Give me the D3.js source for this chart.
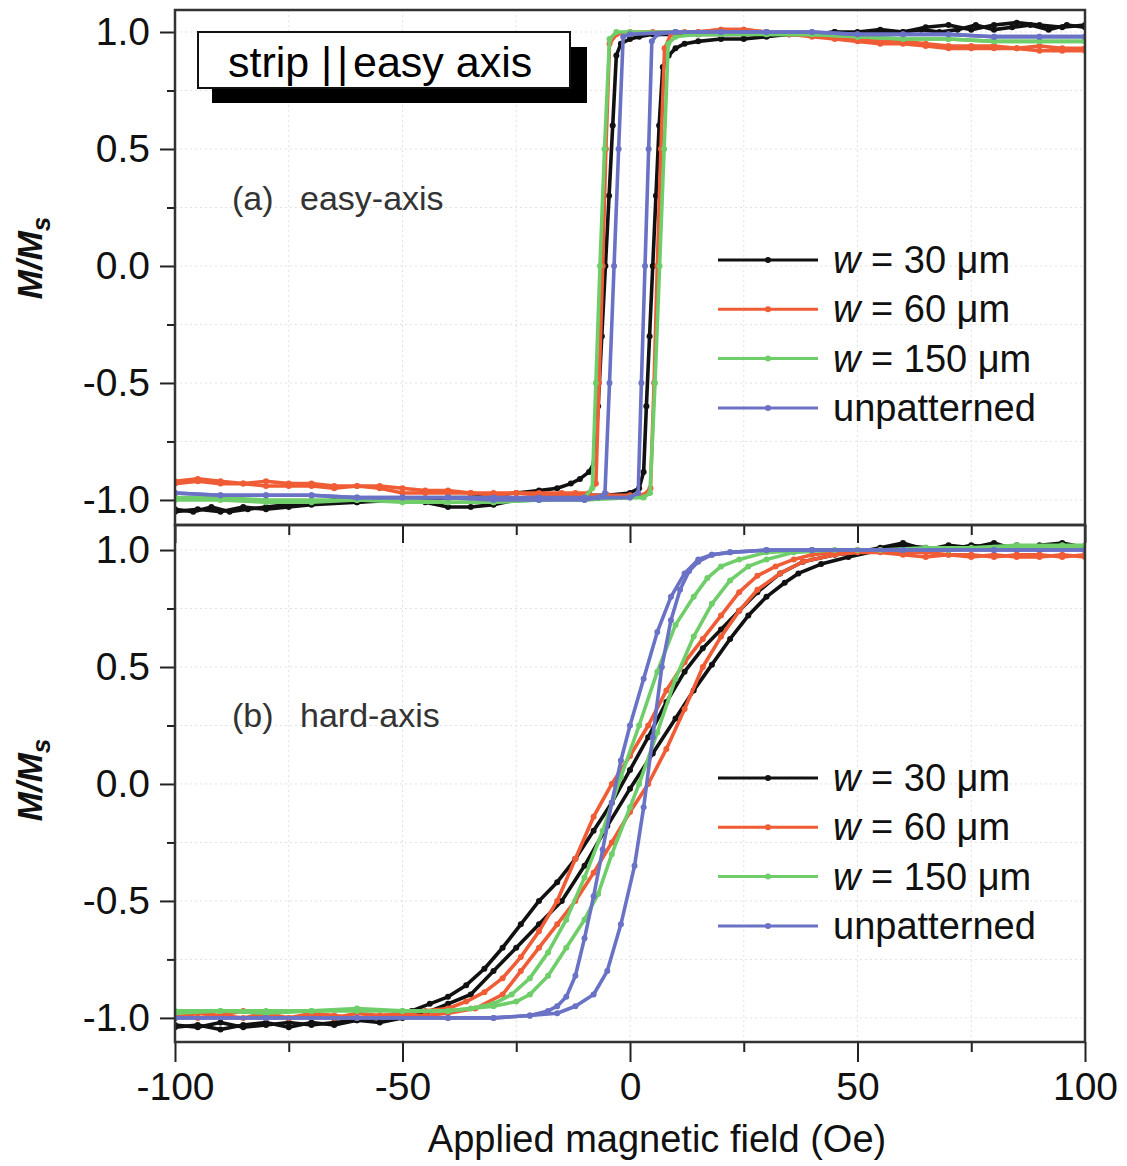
<!DOCTYPE html>
<html><head><meta charset="utf-8">
<script src="https://cdn.jsdelivr.net/npm/d3@7"></script>
<style>body{margin:0;background:#fff}text{font-family:"Liberation Sans",Arial,sans-serif}</style>
</head><body><svg id="chart" width="1127" height="1166"></svg>
<script>
// ---------- data ----------
const seriesLabels = ["30", "60", "150", "unpatterned"];
const seriesColors = ["#111111", "#ef5c35", "#6fce6a", "#6a72c6"];
const xTicks = [-100, -50, 0, 50, 100];
const xMinorTicks = [-75, -25, 25, 75];
const yTicks = [-1, -0.5, 0, 0.5, 1];
const yMinorTicks = [-0.75, -0.25, 0.25, 0.75];

// (a) easy axis: ascending (Up) and descending (Down) branches, [H (Oe), M/Ms]
const easy30Up = [[-100,-1.04],[-96,-1.05],[-92,-1.03],[-88,-1.05],[-84,-1.04],[-80,-1.03],[-75,-1.02],[-70,-1.01],[-65,-1.0],[-60,-1.01],[-55,-1.0],[-50,-1.0],[-45,-1.01],[-40,-1.03],[-35,-1.03],[-30,-1.02],[-25,-1.0],[-20,-0.99],[-15,-0.99],[-10,-0.98],[-5,-0.98],[0,-0.97],[2,-0.95],[3,-0.88],[3.6,-0.6],[4.3,-0.3],[5,0.0],[5.7,0.3],[6.4,0.6],[7.2,0.85],[8.5,0.9],[10,0.93],[12,0.95],[15,0.96],[20,0.97],[25,0.97],[30,0.98],[35,0.99],[40,0.99],[45,1.0],[50,1.0],[55,1.01],[60,1.0],[65,1.02],[70,1.03],[75,1.01],[80,1.03],[85,1.04],[90,1.03],[95,1.02],[100,1.03]];
const easy30Down = [[100,1.02],[96,1.03],[92,1.01],[88,1.03],[84,1.02],[80,1.01],[76,1.03],[72,1.01],[68,1.0],[64,1.01],[60,1.0],[55,1.0],[50,0.99],[45,1.0],[40,0.99],[35,0.99],[30,0.99],[25,0.99],[20,0.99],[15,0.99],[10,0.99],[5,0.99],[2,0.98],[0,0.97],[-2,0.95],[-3,0.9],[-3.8,0.6],[-4.6,0.3],[-5.4,0.0],[-6.2,-0.3],[-7,-0.6],[-7.8,-0.84],[-9,-0.88],[-11,-0.91],[-13,-0.93],[-16,-0.95],[-20,-0.96],[-25,-0.97],[-30,-0.98],[-35,-0.99],[-40,-0.99],[-45,-1.0],[-50,-1.0],[-60,-1.01],[-70,-1.02],[-75,-1.03],[-80,-1.04],[-85,-1.03],[-90,-1.05],[-95,-1.04],[-100,-1.05]];
const easy60Up = [[-100,-0.93],[-95,-0.92],[-90,-0.93],[-85,-0.93],[-80,-0.94],[-75,-0.94],[-70,-0.94],[-65,-0.95],[-60,-0.94],[-55,-0.95],[-50,-0.97],[-45,-0.97],[-40,-0.97],[-35,-0.97],[-30,-0.98],[-25,-0.97],[-20,-0.98],[-15,-0.98],[-10,-0.98],[-5,-0.98],[0,-0.98],[3,-0.98],[4.5,-0.95],[5.3,-0.5],[6.0,0.0],[6.8,0.5],[7.6,0.93],[9,0.99],[12,1.0],[15,1.0],[20,1.01],[25,1.01],[30,1.0],[35,0.99],[40,0.98],[45,0.97],[50,0.96],[55,0.95],[60,0.95],[65,0.94],[70,0.93],[75,0.93],[80,0.93],[85,0.93],[90,0.92],[95,0.92],[100,0.92]];
const easy60Down = [[100,0.93],[95,0.93],[90,0.94],[85,0.93],[80,0.94],[75,0.94],[70,0.94],[65,0.95],[60,0.96],[55,0.96],[50,0.97],[45,0.98],[40,0.99],[35,0.99],[30,1.0],[25,1.01],[20,1.01],[15,1.0],[10,1.0],[5,1.0],[0,1.0],[-3,0.99],[-4.5,0.95],[-5.3,0.5],[-6.0,0.0],[-6.8,-0.5],[-7.5,-0.93],[-9,-0.97],[-12,-0.97],[-15,-0.97],[-20,-0.97],[-25,-0.97],[-30,-0.97],[-35,-0.97],[-40,-0.96],[-45,-0.96],[-50,-0.95],[-55,-0.94],[-60,-0.94],[-65,-0.94],[-70,-0.93],[-75,-0.93],[-80,-0.92],[-85,-0.93],[-90,-0.92],[-95,-0.91],[-100,-0.92]];
const easy150Up = [[-100,-1.0],[-90,-1.0],[-80,-1.01],[-70,-1.01],[-60,-1.0],[-50,-1.01],[-40,-1.01],[-30,-1.01],[-20,-1.0],[-10,-1.0],[0,-0.99],[3,-0.99],[4.4,-0.97],[5.5,-0.5],[6.5,0.0],[7.5,0.5],[8.4,0.95],[10,0.98],[15,0.99],[20,0.99],[30,0.99],[40,0.99],[50,0.98],[60,0.97],[70,0.97],[80,0.96],[90,0.96],[100,0.96]];
const easy150Down = [[100,0.96],[90,0.96],[80,0.96],[70,0.97],[60,0.97],[50,0.98],[40,0.99],[30,0.99],[20,1.0],[10,1.0],[0,1.0],[-3,1.0],[-4.5,0.97],[-5.6,0.5],[-6.6,0.0],[-7.5,-0.5],[-8.3,-0.95],[-10,-0.99],[-20,-1.0],[-30,-1.01],[-40,-1.01],[-50,-1.0],[-60,-1.0],[-70,-1.0],[-80,-1.0],[-90,-0.99],[-100,-0.99]];
const easyUnpUp = [[-100,-0.97],[-90,-0.98],[-80,-0.98],[-70,-0.98],[-60,-0.99],[-50,-0.99],[-40,-0.99],[-30,-0.99],[-20,-0.99],[-10,-0.99],[0,-0.99],[1.8,-0.97],[2.5,-0.5],[3.3,0.0],[4.1,0.5],[4.8,0.96],[6,0.99],[10,1.0],[20,1.0],[30,1.0],[40,1.0],[50,0.99],[60,0.99],[70,0.99],[80,0.98],[90,0.98],[100,0.98]];
const easyUnpDown = [[100,0.98],[90,0.98],[80,0.98],[70,0.99],[60,0.99],[50,0.99],[40,1.0],[30,1.0],[20,1.0],[10,1.0],[0,0.99],[-1.5,0.98],[-2.5,0.5],[-3.5,0.0],[-4.5,-0.5],[-5.5,-0.97],[-7,-0.99],[-10,-1.0],[-20,-1.0],[-30,-1.0],[-40,-0.99],[-50,-0.99],[-60,-0.99],[-70,-0.98],[-80,-0.98],[-90,-0.98],[-100,-0.97]];

// (b) hard axis
const hard30Up = [[-100,-1.03],[-95,-1.04],[-90,-1.02],[-85,-1.04],[-80,-1.03],[-75,-1.02],[-70,-1.03],[-65,-1.02],[-60,-1.01],[-55,-1.02],[-50,-1.0],[-45,-0.98],[-40,-0.94],[-35,-0.9],[-30,-0.8],[-25,-0.7],[-20,-0.6],[-15,-0.5],[-10,-0.35],[-5,-0.18],[0,-0.02],[5,0.13],[10,0.28],[14,0.4],[18,0.51],[22,0.62],[26,0.72],[30,0.8],[34,0.86],[37,0.9],[42,0.94],[48,0.97],[55,1.0],[60,1.02],[65,1.01],[70,1.0],[75,1.02],[80,1.01],[85,1.02],[90,1.0],[95,1.01],[100,1.0]];
const hard30Down = [[100,1.01],[95,1.03],[90,1.02],[85,1.0],[80,1.03],[75,1.01],[70,1.02],[65,1.0],[60,1.03],[55,1.01],[50,0.99],[45,0.98],[38,0.95],[33,0.9],[28,0.82],[24,0.74],[20,0.66],[16,0.58],[12,0.48],[8,0.35],[4,0.2],[0,0.06],[-4,-0.08],[-8,-0.2],[-12,-0.32],[-16,-0.42],[-20,-0.5],[-24,-0.6],[-28,-0.7],[-32,-0.79],[-36,-0.86],[-40,-0.91],[-44,-0.94],[-48,-0.97],[-52,-0.99],[-55,-1.0],[-60,-1.01],[-65,-1.03],[-70,-1.02],[-75,-1.04],[-80,-1.02],[-85,-1.03],[-90,-1.05],[-95,-1.03],[-100,-1.04]];
const hard60Up = [[-100,-1.0],[-95,-0.98],[-90,-0.99],[-85,-0.97],[-80,-0.99],[-75,-1.0],[-70,-0.98],[-65,-0.99],[-60,-1.0],[-55,-0.99],[-50,-0.99],[-45,-0.99],[-40,-0.98],[-34,-0.96],[-28,-0.9],[-24,-0.8],[-20,-0.7],[-16,-0.6],[-12,-0.5],[-8,-0.38],[-4,-0.25],[0,-0.12],[4,0.0],[8,0.15],[12,0.32],[16,0.5],[20,0.63],[24,0.74],[28,0.83],[33,0.9],[38,0.95],[45,0.98],[50,0.99],[55,0.99],[60,0.98],[65,0.97],[70,0.98],[75,0.97],[80,0.98],[85,0.97],[90,0.97],[95,0.98],[100,0.97]];
const hard60Down = [[100,0.98],[95,0.97],[90,0.98],[85,0.98],[80,0.97],[75,0.98],[70,0.98],[65,0.99],[60,0.99],[55,1.0],[50,1.0],[45,0.99],[40,0.98],[36,0.96],[32,0.93],[28,0.89],[24,0.82],[20,0.72],[16,0.62],[12,0.52],[8,0.4],[4,0.25],[0,0.12],[-4,0.0],[-8,-0.14],[-12,-0.32],[-16,-0.5],[-20,-0.63],[-24,-0.74],[-28,-0.83],[-32,-0.89],[-36,-0.93],[-40,-0.96],[-45,-0.97],[-50,-0.98],[-55,-0.99],[-60,-0.98],[-65,-1.0],[-70,-0.99],[-75,-1.0],[-80,-0.98],[-85,-1.0],[-90,-0.99],[-95,-1.0],[-100,-0.99]];
const hard150Up = [[-100,-0.98],[-90,-0.97],[-80,-0.98],[-70,-0.97],[-60,-0.97],[-50,-0.97],[-40,-0.97],[-30,-0.95],[-25,-0.93],[-22,-0.9],[-18,-0.82],[-14,-0.7],[-10,-0.58],[-7,-0.47],[-4,-0.3],[0,-0.1],[2,0.0],[6,0.22],[10,0.45],[14,0.63],[18,0.77],[22,0.87],[26,0.93],[30,0.96],[36,0.99],[45,1.0],[55,1.0],[65,1.01],[75,1.01],[85,1.02],[95,1.02],[100,1.02]];
const hard150Down = [[100,1.01],[90,1.01],[80,1.01],[70,1.0],[60,1.0],[50,1.0],[40,1.0],[30,0.99],[24,0.96],[20,0.93],[17,0.88],[14,0.8],[10,0.68],[6,0.48],[2,0.25],[-2,0.03],[-6,-0.2],[-10,-0.4],[-14,-0.58],[-18,-0.72],[-22,-0.83],[-26,-0.9],[-30,-0.94],[-35,-0.96],[-40,-0.97],[-50,-0.97],[-60,-0.96],[-70,-0.97],[-80,-0.97],[-90,-0.97],[-100,-0.97]];
const hardUnpUp = [[-100,-1.0],[-80,-1.0],[-60,-1.0],[-40,-1.0],[-30,-1.0],[-22,-0.99],[-16,-0.98],[-12,-0.95],[-8,-0.9],[-5,-0.8],[-2,-0.6],[1,-0.35],[3,-0.1],[5,0.2],[7,0.5],[9,0.7],[11,0.83],[13,0.91],[15,0.95],[18,0.98],[22,0.99],[30,1.0],[40,1.0],[60,1.0],[80,1.0],[100,1.0]];
const hardUnpDown = [[100,1.0],[80,1.0],[60,1.0],[40,1.0],[30,1.0],[22,0.99],[18,0.98],[15,0.96],[12,0.9],[9,0.8],[6,0.65],[3,0.45],[0,0.25],[-2,0.1],[-4,-0.08],[-6,-0.28],[-8,-0.48],[-10,-0.66],[-12,-0.82],[-14,-0.91],[-16,-0.95],[-18,-0.97],[-22,-0.99],[-30,-1.0],[-40,-1.0],[-60,-1.0],[-80,-1.0],[-100,-1.0]];

const easyLoops = [[easy30Up, easy30Down], [easy60Up, easy60Down], [easy150Up, easy150Down], [easyUnpUp, easyUnpDown]];
const hardLoops = [[hard30Up, hard30Down], [hard60Up, hard60Down], [hard150Up, hard150Down], [hardUnpUp, hardUnpDown]];

// ---------- drawing ----------
const svg = d3.select("#chart");
const L = 175, R = 1085;
const x = d3.scaleLinear().domain([-100, 100]).range([L, R]);
const panels = [
  {top: 10, bottom: 525, y: d3.scaleLinear().domain([-1.107, 1.094]).range([525, 10]), loops: easyLoops, label: "(a)", name: "easy-axis", labelY: 210, legendY: 260, ylabY: 258, id: "a"},
  {top: 525, bottom: 1042, y: d3.scaleLinear().domain([-1.103, 1.107]).range([1042, 525]), loops: hardLoops, label: "(b)", name: "hard-axis", labelY: 727, legendY: 778, ylabY: 780, id: "b"}
];

const defs = svg.append("defs");
panels.forEach(p => {
  defs.append("clipPath").attr("id", "clip-" + p.id)
    .append("rect").attr("x", L).attr("y", p.top).attr("width", R - L).attr("height", p.bottom - p.top);
});

const yFmt = d => d.toFixed(1);

panels.forEach((p, pi) => {
  const g = svg.append("g");
  // faint dotted grid
  const grid = g.append("g").attr("stroke", "#e2e2e2").attr("stroke-width", 1).attr("stroke-dasharray", "2,3");
  xTicks.concat(xMinorTicks).forEach(v => {
    grid.append("line").attr("x1", x(v)).attr("x2", x(v)).attr("y1", p.top).attr("y2", p.bottom);
  });
  yTicks.concat(yMinorTicks).forEach(v => {
    grid.append("line").attr("x1", L).attr("x2", R).attr("y1", p.y(v)).attr("y2", p.y(v));
  });

  // data
  const plot = g.append("g").attr("clip-path", `url(#clip-${p.id})`);
  const line = d3.line().x(d => x(d[0])).y(d => p.y(d[1]));
  p.loops.forEach((branches, si) => {
    const c = seriesColors[si];
    branches.forEach(br => {
      plot.append("path").datum(br).attr("d", line).attr("fill", "none")
        .attr("stroke", c).attr("stroke-width", 3.6).attr("stroke-linejoin", "round");
      plot.selectAll(null).data(br).enter().append("circle")
        .attr("cx", d => x(d[0])).attr("cy", d => p.y(d[1])).attr("r", 3).attr("fill", c);
    });
  });

  // left axis
  const ya = g.append("g").attr("transform", `translate(${L},0)`)
    .call(d3.axisLeft(p.y).tickValues(yTicks).tickFormat(yFmt).tickSize(15).tickPadding(10));
  ya.select(".domain").remove();
  ya.selectAll("line").attr("stroke", "#222").attr("stroke-width", 2);
  ya.selectAll("text").attr("font-size", 39).attr("fill", "#111").attr("font-family", "Liberation Sans, Arial, sans-serif");
  const ym = g.append("g").attr("transform", `translate(${L},0)`)
    .call(d3.axisLeft(p.y).tickValues(yMinorTicks).tickFormat("").tickSize(8));
  ym.select(".domain").remove();
  ym.selectAll("line").attr("stroke", "#222").attr("stroke-width", 2);

  // y label M/Ms
  const yl = g.append("text").attr("transform", `translate(42,${p.ylabY}) rotate(-90)`)
    .attr("text-anchor", "middle").attr("font-size", 35).attr("font-style", "italic").attr("font-weight", "bold").attr("fill", "#111");
  yl.append("tspan").text("M/M");
  yl.append("tspan").attr("font-size", 26).attr("dy", 8).text("s");

  // panel label
  g.append("text").attr("x", 232).attr("y", p.labelY).attr("font-size", 34).attr("fill", "#333").text(p.label);
  g.append("text").attr("x", 300).attr("y", p.labelY).attr("font-size", 34).attr("fill", "#333").text(p.name);

  // legend
  seriesLabels.forEach((lab, i) => {
    const ly = p.legendY + i * 49.3;
    g.append("line").attr("x1", 718).attr("x2", 818).attr("y1", ly).attr("y2", ly)
      .attr("stroke", seriesColors[i]).attr("stroke-width", 3);
    g.append("circle").attr("cx", 768).attr("cy", ly).attr("r", 3).attr("fill", seriesColors[i]);
    const t = g.append("text").attr("x", 833).attr("y", ly + 13).attr("font-size", 38).attr("fill", "#111");
    if (lab === "unpatterned") {
      t.text("unpatterned");
    } else {
      t.append("tspan").attr("font-style", "italic").text("w");
      t.append("tspan").text(" = " + lab + " μm");
    }
  });
});

// bottom-panel top edge inward ticks
const bp = panels[1];
const ti = svg.append("g").attr("transform", `translate(0,${bp.top})`)
  .call(d3.axisBottom(x).tickValues(xTicks).tickFormat("").tickSize(18));
ti.select(".domain").remove();
ti.selectAll("line").attr("stroke", "#222").attr("stroke-width", 2);
const tim = svg.append("g").attr("transform", `translate(0,${bp.top})`)
  .call(d3.axisBottom(x).tickValues(xMinorTicks).tickFormat("").tickSize(10));
tim.select(".domain").remove();
tim.selectAll("line").attr("stroke", "#222").attr("stroke-width", 2);

// bottom axis
const xa = svg.append("g").attr("transform", `translate(0,${bp.bottom})`)
  .call(d3.axisBottom(x).tickValues(xTicks).tickFormat(d => String(d)).tickSize(20).tickPadding(10));
xa.select(".domain").remove();
xa.selectAll("line").attr("stroke", "#222").attr("stroke-width", 2);
xa.selectAll("text").attr("font-size", 39).attr("fill", "#111").attr("font-family", "Liberation Sans, Arial, sans-serif");
const xm = svg.append("g").attr("transform", `translate(0,${bp.bottom})`)
  .call(d3.axisBottom(x).tickValues(xMinorTicks).tickFormat("").tickSize(10));
xm.select(".domain").remove();
xm.selectAll("line").attr("stroke", "#222").attr("stroke-width", 2);

svg.append("text").attr("x", 657).attr("y", 1152).attr("text-anchor", "middle")
  .attr("font-size", 38).attr("fill", "#111").text("Applied magnetic field (Oe)");

// frames
panels.forEach(p => {
  svg.append("rect").attr("x", L).attr("y", p.top).attr("width", R - L).attr("height", p.bottom - p.top)
    .attr("fill", "none").attr("stroke", "#333").attr("stroke-width", 2.5);
});

// title box "strip || easy axis"
svg.append("rect").attr("x", 212).attr("y", 47).attr("width", 375).attr("height", 56).attr("fill", "#000");
svg.append("rect").attr("x", 198).attr("y", 32).attr("width", 372).attr("height", 56)
  .attr("fill", "#fff").attr("stroke", "#111").attr("stroke-width", 2);
const tt = svg.append("text").attr("y", 77).attr("font-size", 43).attr("fill", "#000");
tt.append("tspan").attr("x", 228).text("strip");
tt.append("tspan").attr("x", 321).text("|");
tt.append("tspan").attr("x", 337).text("|");
tt.append("tspan").attr("x", 353).text("easy axis");
</script></body></html>
